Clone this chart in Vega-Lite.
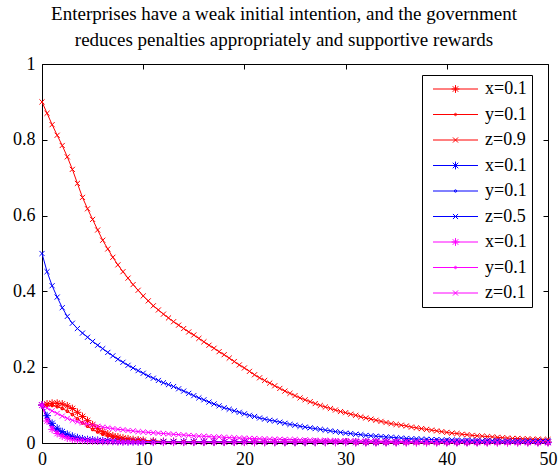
{
"$schema": "https://vega.github.io/schema/vega-lite/v6.json",
"width": 506, "height": 379,
"autosize": "none",
"padding": {"left": 42, "top": 64, "right": 10, "bottom": 25},
"background": "white",
"title": {"text": ["Enterprises have a weak initial intention, and the government", "reduces penalties appropriately and supportive rewards"], "font": "Liberation Serif", "fontSize": 19, "fontWeight": "normal", "color": "black", "anchor": "middle", "dx": -11, "offset": -14, "lineHeight": 26, "baseline": "bottom"},
"config": {
  "font": "Liberation Serif",
  "view": {"stroke": "black", "strokeWidth": 1},
  "axis": {"labelFont": "Liberation Serif", "labelFontSize": 18, "labelColor": "black"},
  "legend": {"padding": 5, "strokeColor": "black", "fillColor": "white", "labelFont": "Liberation Serif", "labelFontSize": 18, "labelColor": "black", "symbolSize": 36, "symbolStrokeWidth": 1, "labelOffset": 40, "rowPadding": 7.5, "cornerRadius": 0}
},
"data": {"values": [
{"t":0,"rx":0.100,"ry":0.100,"rz":0.900,"bx":0.100,"by":0.100,"bz":0.500,"mx":0.100,"my":0.100,"mz":0.100},
{"t":0.5,"rx":0.103,"ry":0.100,"rz":0.870,"bx":0.072,"by":0.066,"bz":0.452,"mx":0.058,"my":0.062,"mz":0.092},
{"t":1,"rx":0.105,"ry":0.099,"rz":0.840,"bx":0.052,"by":0.046,"bz":0.415,"mx":0.036,"my":0.041,"mz":0.085},
{"t":1.5,"rx":0.105,"ry":0.096,"rz":0.812,"bx":0.039,"by":0.034,"bz":0.385,"mx":0.025,"my":0.029,"mz":0.078},
{"t":2,"rx":0.103,"ry":0.091,"rz":0.785,"bx":0.030,"by":0.026,"bz":0.357,"mx":0.018,"my":0.021,"mz":0.071},
{"t":2.5,"rx":0.098,"ry":0.084,"rz":0.755,"bx":0.023,"by":0.020,"bz":0.334,"mx":0.013,"my":0.016,"mz":0.065},
{"t":3,"rx":0.091,"ry":0.075,"rz":0.722,"bx":0.018,"by":0.015,"bz":0.316,"mx":0.010,"my":0.012,"mz":0.060},
{"t":3.5,"rx":0.081,"ry":0.064,"rz":0.685,"bx":0.014,"by":0.012,"bz":0.302,"mx":0.008,"my":0.010,"mz":0.056},
{"t":4,"rx":0.070,"ry":0.053,"rz":0.648,"bx":0.011,"by":0.010,"bz":0.290,"mx":0.007,"my":0.008,"mz":0.053},
{"t":4.5,"rx":0.059,"ry":0.044,"rz":0.618,"bx":0.009,"by":0.008,"bz":0.279,"mx":0.006,"my":0.007,"mz":0.050},
{"t":5,"rx":0.048,"ry":0.036,"rz":0.590,"bx":0.008,"by":0.007,"bz":0.268,"mx":0.005,"my":0.006,"mz":0.047},
{"t":5.5,"rx":0.038,"ry":0.029,"rz":0.562,"bx":0.007,"by":0.006,"bz":0.258,"mx":0.005,"my":0.005,"mz":0.044},
{"t":6,"rx":0.030,"ry":0.023,"rz":0.535,"bx":0.006,"by":0.005,"bz":0.249,"mx":0.004,"my":0.005,"mz":0.042},
{"t":6.5,"rx":0.024,"ry":0.019,"rz":0.512,"bx":0.006,"by":0.005,"bz":0.239,"mx":0.004,"my":0.004,"mz":0.040},
{"t":7,"rx":0.019,"ry":0.015,"rz":0.490,"bx":0.005,"by":0.004,"bz":0.230,"mx":0.004,"my":0.004,"mz":0.038},
{"t":7.5,"rx":0.016,"ry":0.012,"rz":0.470,"bx":0.005,"by":0.004,"bz":0.221,"mx":0.003,"my":0.004,"mz":0.036},
{"t":8,"rx":0.013,"ry":0.010,"rz":0.452,"bx":0.004,"by":0.004,"bz":0.213,"mx":0.003,"my":0.003,"mz":0.035},
{"t":8.5,"rx":0.011,"ry":0.009,"rz":0.435,"bx":0.004,"by":0.004,"bz":0.205,"mx":0.003,"my":0.003,"mz":0.033},
{"t":9,"rx":0.009,"ry":0.008,"rz":0.418,"bx":0.004,"by":0.003,"bz":0.198,"mx":0.003,"my":0.003,"mz":0.032},
{"t":9.5,"rx":0.008,"ry":0.007,"rz":0.403,"bx":0.004,"by":0.003,"bz":0.191,"mx":0.003,"my":0.003,"mz":0.030},
{"t":10,"rx":0.007,"ry":0.006,"rz":0.388,"bx":0.003,"by":0.003,"bz":0.184,"mx":0.002,"my":0.003,"mz":0.029},
{"t":10.5,"rz":0.375,"bz":0.177,"mz":0.028},
{"t":11,"rz":0.362,"bz":0.171,"mz":0.027,"rx":0.005,"ry":0.005,"bx":0.003,"by":0.003,"mx":0.002,"my":0.002},
{"t":11.5,"rz":0.351,"bz":0.165,"mz":0.026},
{"t":12,"rz":0.340,"bz":0.159,"mz":0.025,"rx":0.004,"ry":0.004,"bx":0.003,"by":0.003,"mx":0.002,"my":0.002},
{"t":12.5,"rz":0.330,"bz":0.154,"mz":0.024},
{"t":13,"rz":0.320,"bz":0.149,"mz":0.023,"rx":0.004,"ry":0.003,"bx":0.003,"by":0.003,"mx":0.002,"my":0.002},
{"t":13.5,"rz":0.311,"bz":0.143,"mz":0.022},
{"t":14,"rz":0.302,"bz":0.137,"mz":0.021,"rx":0.003,"ry":0.003,"bx":0.003,"by":0.002,"mx":0.002,"my":0.002},
{"t":14.5,"rz":0.293,"bz":0.131,"mz":0.020},
{"t":15,"rz":0.285,"bz":0.125,"mz":0.019,"rx":0.003,"ry":0.003,"bx":0.003,"by":0.002,"mx":0.002,"my":0.002},
{"t":15.5,"rz":0.276,"bz":0.119,"mz":0.018},
{"t":16,"rz":0.267,"bz":0.114,"mz":0.018,"rx":0.003,"ry":0.002,"bx":0.003,"by":0.002,"mx":0.002,"my":0.002},
{"t":16.5,"rz":0.258,"bz":0.108,"mz":0.017},
{"t":17,"rz":0.250,"bz":0.103,"mz":0.016,"rx":0.003,"ry":0.002,"bx":0.003,"by":0.002,"mx":0.002,"my":0.002},
{"t":17.5,"rz":0.241,"bz":0.098,"mz":0.016},
{"t":18,"rz":0.233,"bz":0.093,"mz":0.015,"rx":0.003,"ry":0.002,"bx":0.003,"by":0.002,"mx":0.002,"my":0.002},
{"t":18.5,"rz":0.224,"bz":0.089,"mz":0.014},
{"t":19,"rz":0.215,"bz":0.085,"mz":0.014,"rx":0.003,"ry":0.002,"bx":0.003,"by":0.002,"mx":0.002,"my":0.002},
{"t":19.5,"rz":0.206,"bz":0.081,"mz":0.013},
{"t":20,"rz":0.198,"bz":0.077,"mz":0.013,"rx":0.003,"ry":0.002,"bx":0.003,"by":0.002,"mx":0.002,"my":0.002},
{"t":20.5,"rz":0.189,"bz":0.073,"mz":0.012},
{"t":21,"rz":0.180,"bz":0.070,"mz":0.012,"rx":0.002,"ry":0.002,"bx":0.002,"by":0.002,"mx":0.002,"my":0.002},
{"t":21.5,"rz":0.172,"bz":0.066,"mz":0.011},
{"t":22,"rz":0.165,"bz":0.063,"mz":0.011,"rx":0.002,"ry":0.002,"bx":0.002,"by":0.002,"mx":0.002,"my":0.002},
{"t":22.5,"rz":0.158,"bz":0.060,"mz":0.010},
{"t":23,"rz":0.151,"bz":0.058,"mz":0.010,"rx":0.002,"ry":0.002,"bx":0.002,"by":0.002,"mx":0.002,"my":0.002},
{"t":23.5,"rz":0.144,"bz":0.055,"mz":0.010},
{"t":24,"rz":0.137,"bz":0.052,"mz":0.009,"rx":0.002,"ry":0.002,"bx":0.002,"by":0.002,"mx":0.002,"my":0.002},
{"t":24.5,"rz":0.131,"bz":0.049,"mz":0.009},
{"t":25,"rz":0.125,"bz":0.047,"mz":0.009,"rx":0.002,"ry":0.002,"bx":0.002,"by":0.002,"mx":0.002,"my":0.002},
{"t":25.5,"rz":0.119,"bz":0.044,"mz":0.008},
{"t":26,"rz":0.114,"bz":0.042,"mz":0.008,"rx":0.002,"ry":0.002,"bx":0.002,"by":0.002,"mx":0.002,"my":0.002},
{"t":26.5,"rz":0.109,"bz":0.040,"mz":0.008},
{"t":27,"rz":0.104,"bz":0.038,"mz":0.007,"rx":0.002,"ry":0.002,"bx":0.002,"by":0.002,"mx":0.002,"my":0.002},
{"t":27.5,"rz":0.099,"bz":0.036,"mz":0.007},
{"t":28,"rz":0.095,"bz":0.034,"mz":0.007,"rx":0.002,"ry":0.002,"bx":0.002,"by":0.002,"mx":0.002,"my":0.002},
{"t":28.5,"rz":0.091,"bz":0.032,"mz":0.007},
{"t":29,"rz":0.087,"bz":0.030,"mz":0.006,"rx":0.002,"ry":0.002,"bx":0.002,"by":0.002,"mx":0.002,"my":0.002},
{"t":29.5,"rz":0.083,"bz":0.028,"mz":0.006},
{"t":30,"rz":0.080,"bz":0.026,"mz":0.006,"rx":0.002,"ry":0.002,"bx":0.002,"by":0.002,"mx":0.002,"my":0.002},
{"t":30.5,"rz":0.076,"bz":0.025,"mz":0.006},
{"t":31,"rz":0.073,"bz":0.023,"mz":0.005,"rx":0.002,"ry":0.001,"bx":0.002,"by":0.002,"mx":0.001,"my":0.001},
{"t":31.5,"rz":0.069,"bz":0.022,"mz":0.005},
{"t":32,"rz":0.066,"bz":0.020,"mz":0.005,"rx":0.002,"ry":0.001,"bx":0.002,"by":0.002,"mx":0.001,"my":0.001},
{"t":32.5,"rz":0.063,"bz":0.019,"mz":0.005},
{"t":33,"rz":0.060,"bz":0.018,"mz":0.005,"rx":0.002,"ry":0.001,"bx":0.002,"by":0.002,"mx":0.001,"my":0.001},
{"t":33.5,"rz":0.057,"bz":0.017,"mz":0.004},
{"t":34,"rz":0.054,"bz":0.016,"mz":0.004,"rx":0.002,"ry":0.001,"bx":0.002,"by":0.002,"mx":0.001,"my":0.001},
{"t":34.5,"rz":0.051,"bz":0.015,"mz":0.004},
{"t":35,"rz":0.049,"bz":0.014,"mz":0.004,"rx":0.002,"ry":0.001,"bx":0.002,"by":0.002,"mx":0.001,"my":0.001},
{"t":35.5,"rz":0.047,"bz":0.013,"mz":0.004},
{"t":36,"rz":0.045,"bz":0.012,"mz":0.004,"rx":0.002,"ry":0.001,"bx":0.002,"by":0.002,"mx":0.001,"my":0.001},
{"t":36.5,"rz":0.042,"bz":0.011,"mz":0.003},
{"t":37,"rz":0.040,"bz":0.011,"mz":0.003,"rx":0.002,"ry":0.001,"bx":0.002,"by":0.002,"mx":0.001,"my":0.001},
{"t":37.5,"rz":0.038,"bz":0.010,"mz":0.003},
{"t":38,"rz":0.036,"bz":0.010,"mz":0.003,"rx":0.002,"ry":0.001,"bx":0.002,"by":0.002,"mx":0.001,"my":0.001},
{"t":38.5,"rz":0.034,"bz":0.009,"mz":0.003},
{"t":39,"rz":0.032,"bz":0.009,"mz":0.003,"rx":0.002,"ry":0.001,"bx":0.002,"by":0.002,"mx":0.001,"my":0.001},
{"t":39.5,"rz":0.030,"bz":0.008,"mz":0.003},
{"t":40,"rz":0.028,"bz":0.008,"mz":0.003,"rx":0.002,"ry":0.001,"bx":0.002,"by":0.002,"mx":0.001,"my":0.001},
{"t":40.5,"rz":0.026,"bz":0.008,"mz":0.003},
{"t":41,"rz":0.025,"bz":0.007,"mz":0.003,"rx":0.002,"ry":0.001,"bx":0.002,"by":0.002,"mx":0.001,"my":0.001},
{"t":41.5,"rz":0.023,"bz":0.007,"mz":0.003},
{"t":42,"rz":0.022,"bz":0.007,"mz":0.003,"rx":0.002,"ry":0.001,"bx":0.002,"by":0.002,"mx":0.001,"my":0.001},
{"t":42.5,"rz":0.020,"bz":0.007,"mz":0.002},
{"t":43,"rz":0.019,"bz":0.006,"mz":0.002,"rx":0.002,"ry":0.001,"bx":0.002,"by":0.002,"mx":0.001,"my":0.001},
{"t":43.5,"rz":0.018,"bz":0.006,"mz":0.002},
{"t":44,"rz":0.017,"bz":0.006,"mz":0.002,"rx":0.002,"ry":0.001,"bx":0.002,"by":0.002,"mx":0.001,"my":0.001},
{"t":44.5,"rz":0.016,"bz":0.006,"mz":0.002},
{"t":45,"rz":0.015,"bz":0.006,"mz":0.002,"rx":0.002,"ry":0.001,"bx":0.002,"by":0.002,"mx":0.001,"my":0.001},
{"t":45.5,"rz":0.014,"bz":0.005,"mz":0.002},
{"t":46,"rz":0.013,"bz":0.005,"mz":0.002,"rx":0.002,"ry":0.001,"bx":0.002,"by":0.002,"mx":0.001,"my":0.001},
{"t":46.5,"rz":0.012,"bz":0.005,"mz":0.002},
{"t":47,"rz":0.012,"bz":0.005,"mz":0.002,"rx":0.002,"ry":0.001,"bx":0.002,"by":0.002,"mx":0.001,"my":0.001},
{"t":47.5,"rz":0.011,"bz":0.005,"mz":0.002},
{"t":48,"rz":0.011,"bz":0.005,"mz":0.002,"rx":0.002,"ry":0.001,"bx":0.002,"by":0.002,"mx":0.001,"my":0.001},
{"t":48.5,"rz":0.010,"bz":0.005,"mz":0.002},
{"t":49,"rz":0.010,"bz":0.005,"mz":0.002,"rx":0.002,"ry":0.001,"bx":0.002,"by":0.002,"mx":0.001,"my":0.001},
{"t":49.5,"rz":0.009,"bz":0.005,"mz":0.002},
{"t":50,"rz":0.009,"bz":0.005,"mz":0.002,"rx":0.002,"ry":0.001,"bx":0.002,"by":0.002,"mx":0.001,"my":0.001}
]},
"transform": [
  {"fold": ["rx","ry","rz","bx","by","bz","mx","my","mz"], "as": ["s","v"]},
  {"filter": "isValid(datum.v)"}
],
"encoding": {
  "x": {"field": "t", "type": "quantitative", "scale": {"domain": [0, 50], "nice": false, "zero": false}},
  "y": {"field": "v", "type": "quantitative", "scale": {"domain": [0, 1], "nice": false}},
  "color": {"field": "s", "type": "nominal",
    "scale": {"domain": ["rx","ry","rz","bx","by","bz","mx","my","mz"], "range": ["#ff0000","#ff0000","#ff0000","#0000ff","#0000ff","#0000ff","#ff00ff","#ff00ff","#ff00ff"]},
    "legend": {"title": null, "orient": "none", "legendX": 380, "legendY": 11, "labelExpr": "substring(datum.value,1,2) + '=0.' + (datum.value=='rz' ? '9' : datum.value=='bz' ? '5' : '1')"}}
},
"layer": [
  {
    "mark": {"type": "line", "strokeWidth": 1},
    "encoding": {
      "x": {"field": "t", "type": "quantitative",
            "axis": {"orient": "bottom", "values": [0,10,20,30,40,50], "title": null, "grid": false, "domain": false, "tickColor": "black", "tickSize": -5, "labelFont": "Liberation Serif", "labelFontSize": 18, "labelColor": "black", "labelPadding": 12, "labelFlush": false, "labelOverlap": false, "labelBound": false}},
      "y": {"field": "v", "type": "quantitative",
            "axis": {"orient": "left", "values": [0,0.2,0.4,0.6,0.8,1], "labelExpr": "'' + datum.value", "title": null, "grid": false, "domain": false, "tickColor": "black", "tickSize": -5, "labelFont": "Liberation Serif", "labelFontSize": 18, "labelColor": "black", "labelPadding": 12, "labelFlush": false, "labelOverlap": false, "labelBound": false}}
    }
  },
  {
    "transform": [{"filter": "substring(datum.s,1,2) == 'x'"}],
    "mark": {"type": "point", "filled": false, "size": 36, "strokeWidth": 1, "opacity": 1, "shape": "M-1.3,0L1.3,0M0,-1.3L0,1.3M-0.92,-0.92L0.92,0.92M-0.92,0.92L0.92,-0.92"},
    "encoding": {
      "x": {"field": "t", "type": "quantitative",
            "axis": {"orient": "top", "values": [0,10,20,30,40,50], "title": null, "grid": false, "domain": false, "labels": false, "tickColor": "black", "tickSize": -5}},
      "y": {"field": "v", "type": "quantitative",
            "axis": {"orient": "right", "values": [0,0.2,0.4,0.6,0.8,1], "title": null, "grid": false, "domain": false, "labels": false, "tickColor": "black", "tickSize": -5}}
    }
  },
  {
    "transform": [{"filter": "substring(datum.s,1,2) == 'y'"}],
    "mark": {"type": "point", "filled": false, "size": 36, "strokeWidth": 1.2, "opacity": 1, "shape": "M-0.4,0A0.4,0.4 0 1,0 0.4,0A0.4,0.4 0 1,0 -0.4,0Z"},
    "encoding": {
      "x": {"field": "t", "type": "quantitative", "axis": null},
      "y": {"field": "v", "type": "quantitative", "axis": null}
    }
  },
  {
    "transform": [{"filter": "substring(datum.s,1,2) == 'z'"}],
    "mark": {"type": "point", "filled": false, "size": 36, "strokeWidth": 1, "opacity": 1, "shape": "M-0.85,-0.85L0.85,0.85M-0.85,0.85L0.85,-0.85"},
    "encoding": {
      "x": {"field": "t", "type": "quantitative", "axis": null},
      "y": {"field": "v", "type": "quantitative", "axis": null}
    }
  },
  {
    "transform": [{"filter": "datum.t < -1"}],
    "mark": {"type": "point", "filled": false, "size": 36, "strokeWidth": 1, "opacity": 1},
    "encoding": {
      "x": {"field": "t", "type": "quantitative", "axis": null},
      "y": {"field": "v", "type": "quantitative", "axis": null},
      "shape": {"field": "s", "type": "nominal",
        "scale": {"domain": ["rx","ry","rz","bx","by","bz","mx","my","mz"],
          "range": ["M-1,0L14,0M5.2,0L7.8,0M6.5,-1.3L6.5,1.3M5.58,-0.92L7.42,0.92M5.58,0.92L7.42,-0.92", "M-1,0L14,0M6.1,0A0.4,0.4 0 1,0 6.9,0A0.4,0.4 0 1,0 6.1,0Z", "M-1,0L14,0M5.65,-0.85L7.35,0.85M5.65,0.85L7.35,-0.85",
                    "M-1,0L14,0M5.2,0L7.8,0M6.5,-1.3L6.5,1.3M5.58,-0.92L7.42,0.92M5.58,0.92L7.42,-0.92", "M-1,0L14,0M6.1,0A0.4,0.4 0 1,0 6.9,0A0.4,0.4 0 1,0 6.1,0Z", "M-1,0L14,0M5.65,-0.85L7.35,0.85M5.65,0.85L7.35,-0.85",
                    "M-1,0L14,0M5.2,0L7.8,0M6.5,-1.3L6.5,1.3M5.58,-0.92L7.42,0.92M5.58,0.92L7.42,-0.92", "M-1,0L14,0M6.1,0A0.4,0.4 0 1,0 6.9,0A0.4,0.4 0 1,0 6.1,0Z", "M-1,0L14,0M5.65,-0.85L7.35,0.85M5.65,0.85L7.35,-0.85"]},
        "legend": {"title": null, "orient": "none", "legendX": 380, "legendY": 11, "labelExpr": "substring(datum.value,1,2) + '=0.' + (datum.value=='rz' ? '9' : datum.value=='bz' ? '5' : '1')"}}
    }
  }
],
"resolve": {"axis": {"x": "independent", "y": "independent"}}
}
